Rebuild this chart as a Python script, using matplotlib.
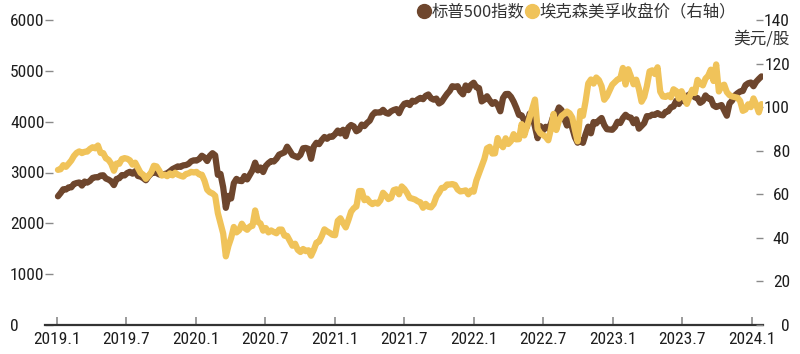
import matplotlib
matplotlib.use('Agg')
import matplotlib.pyplot as plt
from matplotlib.lines import Line2D
from matplotlib.font_manager import FontProperties, fontManager
import pandas as pd

# ---- data: weekly closes (Fridays) ----
spx_2019 = [2532, 2596, 2671, 2665, 2707, 2708, 2775, 2793, 2804, 2743, 2822, 2801, 2834,
            2893, 2907, 2905, 2940, 2946, 2881, 2860, 2826, 2752, 2873, 2887, 2950, 2942,
            2990, 3014, 2977, 3026, 2932, 2919, 2889, 2847, 2926, 2979, 3007, 2992, 2962,
            2952, 2970, 2986, 3023, 3067, 3093, 3120, 3110, 3141, 3146, 3169, 3221, 3240]
spx_2020 = [3235, 3265, 3330, 3295, 3226, 3328, 3380, 3338, 2954, 2972, 2711, 2305, 2541,
            2489, 2790, 2875, 2837, 2831, 2930, 2864, 2955, 3044, 3194, 3041, 3098, 3009,
            3130, 3185, 3225, 3216, 3271, 3351, 3373, 3397, 3508, 3427, 3341, 3319, 3298,
            3348, 3477, 3484, 3465, 3270, 3510, 3585, 3558, 3638, 3699, 3663, 3709, 3703, 3756]
spx_2021 = [3825, 3768, 3841, 3714, 3887, 3934, 3907, 3811, 3842, 3943, 3913, 3975, 4020,
            4129, 4185, 4180, 4181, 4233, 4174, 4156, 4204, 4230, 4247, 4166, 4281, 4352,
            4370, 4327, 4412, 4395, 4437, 4468, 4442, 4509, 4535, 4459, 4433, 4455, 4357,
            4391, 4471, 4545, 4605, 4698, 4683, 4698, 4595, 4538, 4712, 4620, 4725, 4766]
spx_2022 = [4677, 4662, 4398, 4432, 4500, 4419, 4349, 4385, 4329, 4204, 4463, 4543, 4546,
            4488, 4393, 4272, 4132, 4123, 4024, 3901, 4158, 4109, 3901, 3675, 3912, 3825,
            3899, 3863, 3962, 4130, 4145, 4280, 4228, 4058, 3924, 4067, 3873, 3693, 3586,
            3640, 3583, 3753, 3901, 3771, 3993, 3965, 4026, 4072, 3934, 3852, 3845, 3840]
spx_2023 = [3895, 3999, 3973, 4071, 4136, 4090, 4079, 3970, 4046, 3862, 3917, 3971, 4109,
            4105, 4138, 4133, 4169, 4136, 4124, 4192, 4205, 4282, 4299, 4410, 4348, 4450,
            4399, 4505, 4536, 4582, 4478, 4464, 4370, 4406, 4516, 4457, 4450, 4320, 4288,
            4309, 4327, 4224, 4117, 4358, 4415, 4514, 4559, 4595, 4604, 4719, 4755, 4770]
spx_2024 = [4697, 4784, 4840, 4891]

xom_2019 = [71.2, 71.5, 73.4, 72.6, 74.0, 75.5, 77.6, 79.0, 79.7, 78.9, 79.5, 79.6, 80.8,
            81.6, 81.1, 82.4, 79.0, 78.9, 76.5, 75.8, 74.0, 70.8, 74.1, 74.0, 76.2, 76.6,
            76.3, 75.6, 73.6, 74.5, 72.1, 69.8, 69.0, 67.1, 68.5, 70.1, 73.1, 72.8, 70.9,
            68.6, 69.0, 68.3, 69.6, 68.7, 69.9, 69.0, 68.5, 68.1, 69.3, 69.6, 70.3, 70.0]
xom_2020 = [70.3, 69.1, 69.0, 66.2, 62.1, 60.9, 60.4, 59.3, 51.4, 46.6, 42.0, 31.5, 36.4,
            40.0, 45.0, 42.5, 43.5, 46.5, 44.6, 43.7, 45.2, 45.5, 52.6, 47.3, 46.6, 43.3,
            44.5, 42.5, 43.4, 42.7, 42.1, 43.8, 43.8, 41.0, 40.9, 38.6, 36.4, 37.3, 34.5,
            33.5, 34.9, 33.9, 34.3, 31.8, 34.5, 37.8, 38.3, 40.8, 43.9, 43.0, 42.3, 41.4, 41.2]
xom_2021 = [47.8, 49.0, 46.8, 44.8, 48.2, 52.0, 53.6, 54.4, 61.5, 61.5, 57.3, 58.0, 56.4,
            55.5, 56.2, 55.7, 57.2, 60.7, 59.4, 57.8, 58.4, 61.9, 62.3, 60.0, 63.6, 62.4,
            60.6, 58.3, 58.0, 57.6, 56.8, 56.3, 53.8, 55.6, 54.3, 54.0, 55.5, 58.9, 60.7,
            62.9, 63.0, 64.5, 64.5, 64.7, 64.3, 62.2, 61.3, 61.5, 61.8, 60.0, 61.7, 61.2]
xom_2022 = [66.3, 69.6, 72.9, 76.2, 81.1, 81.8, 78.7, 78.8, 85.8, 83.1, 81.6, 85.7, 83.1,
            84.4, 87.6, 85.2, 85.3, 92.2, 87.0, 91.1, 95.3, 99.4, 103.5, 90.0, 88.0, 87.2,
            86.4, 84.8, 90.0, 96.9, 89.5, 93.8, 96.0, 96.9, 98.0, 97.2, 95.2, 89.5, 84.3,
            98.2, 96.0, 102.7, 110.9, 112.7, 110.8, 113.6, 112.4, 109.6, 103.4, 105.0, 107.6, 110.3]
xom_2023 = [111.5, 112.7, 113.1, 118.0, 110.4, 117.4, 114.1, 110.5, 112.6, 108.4, 102.5, 104.7, 109.7,
            116.4, 116.9, 115.2, 118.3, 107.1, 104.9, 104.7, 105.4, 104.5, 108.2, 107.4, 103.9, 107.3,
            104.7, 101.5, 104.7, 108.0, 106.5, 112.5, 111.0, 110.0, 113.1, 114.4, 117.2, 112.0, 119.6,
            107.2, 109.7, 110.3, 106.9, 105.5, 104.9, 104.6, 104.3, 102.8, 98.3, 98.9, 101.3, 100.0]
xom_2024 = [104.0, 101.2, 97.6, 101.4]

spx = spx_2019 + spx_2020 + spx_2021 + spx_2022 + spx_2023 + spx_2024
xom = xom_2019 + xom_2020 + xom_2021 + xom_2022 + xom_2023 + xom_2024
n = min(len(spx), len(xom))
dates = pd.date_range('2019-01-04', periods=n, freq='W-FRI')

xtick_dates = ['2019-01-01', '2019-07-01', '2020-01-01', '2020-07-01', '2021-01-01', '2021-07-01',
               '2022-01-01', '2022-07-01', '2023-01-01', '2023-07-01', '2024-01-01']
xtick_labels = ['2019.1', '2019.7', '2020.1', '2020.7', '2021.1', '2021.7',
                '2022.1', '2022.7', '2023.1', '2023.7', '2024.1']
left_ticks = [0, 1000, 2000, 3000, 4000, 5000, 6000]
right_ticks = [0, 20, 40, 60, 80, 100, 120, 140]

legend_labels = ['标普500指数', '埃克森美孚收盘价（右轴）']
unit_label = '美元/股'

BROWN = '#6E462D'
YELLOW = '#F0C35A'
TICKC = '#8a8a8a'
TEXTC = '#1e1e1e'

# pick a narrow font for numbers if available
names = {f.name for f in fontManager.ttflist}
cond_dejavu = any(f.name == 'DejaVu Sans' and f.stretch == 'condensed' for f in fontManager.ttflist)
if 'Liberation Sans Narrow' in names:
    num_prop = dict(family=['Liberation Sans Narrow', 'DejaVu Sans'], size=13, stretch='normal')
elif 'Roboto Condensed' in names:
    num_prop = dict(family=['Roboto Condensed', 'DejaVu Sans'], size=12.5, stretch='normal')
elif cond_dejavu:
    num_prop = dict(family=['DejaVu Sans'], size=11.3, stretch='condensed')
else:
    num_prop = dict(family=['Roboto', 'DejaVu Sans'], size=10.8, stretch='condensed')

cjk = ['Noto Sans CJK SC', 'DejaVu Sans']

W, H = 800, 354
fig = plt.figure(figsize=(W / 100, H / 100), dpi=100)
ax = fig.add_axes([45 / W, (H - 325) / H, (763 - 45) / W, (325 - 20) / H])
ax2 = ax.twinx()

ax.plot(dates, spx[:n], color=BROWN, lw=4.5, solid_joinstyle='round', solid_capstyle='round')
ax2.plot(dates, xom[:n], color=YELLOW, lw=4.5, solid_joinstyle='round', solid_capstyle='round')

ax.set_xlim(pd.Timestamp('2018-12-01'), pd.Timestamp('2024-01-30'))
ax.set_ylim(0, 6000)
ax2.set_ylim(0, 140)

for a in (ax, ax2):
    for s in a.spines.values():
        s.set_visible(False)
ax.spines['bottom'].set_visible(True)
ax.spines['bottom'].set_color('#333333')
ax.spines['bottom'].set_linewidth(1.6)

ax.set_xticks(pd.to_datetime(xtick_dates))
ax.set_xticklabels(xtick_labels)
ax.tick_params(axis='x', direction='in', length=6, width=1.2, color=TICKC, pad=5,
               labelcolor=TEXTC)

ax.set_yticks(left_ticks)
ax.set_yticklabels([str(v) for v in left_ticks])
ax.tick_params(axis='y', direction='in', length=6, width=1.0, color=TICKC, pad=25.2,
               labelcolor=TEXTC)
for lab in ax.get_yticklabels():
    lab.set_ha('left')

ax2.set_yticks(right_ticks)
ax2.set_yticklabels([str(v) for v in right_ticks])
ax2.tick_params(axis='y', direction='in', length=5, width=1.0, color=TICKC, pad=19.4,
                labelcolor=TEXTC)
for lab in ax2.get_yticklabels():
    lab.set_ha('right')

for lab in ax.get_xticklabels() + ax.get_yticklabels() + ax2.get_yticklabels():
    lab.set_family(num_prop['family'])
    lab.set_fontsize(num_prop['size'])
    lab.set_fontstretch(num_prop['stretch'])

handles = [Line2D([0], [0], marker='o', ls='none', color=BROWN, markersize=10),
           Line2D([0], [0], marker='o', ls='none', color=YELLOW, markersize=10)]
fig.legend(handles=handles, labels=legend_labels, ncol=2, loc='center right',
           bbox_to_anchor=(744 / W, 1 - 12 / H), frameon=False,
           handletextpad=0.0, columnspacing=0.0, handlelength=0.9, borderpad=0,
           prop=FontProperties(family=cjk, size=11.8), labelcolor='#333333')

fig.text(790 / W, 1 - 39 / H, unit_label, ha='right', va='center', fontsize=12,
         family=cjk, color='#333333')

fig.savefig('out.png', dpi=100)
